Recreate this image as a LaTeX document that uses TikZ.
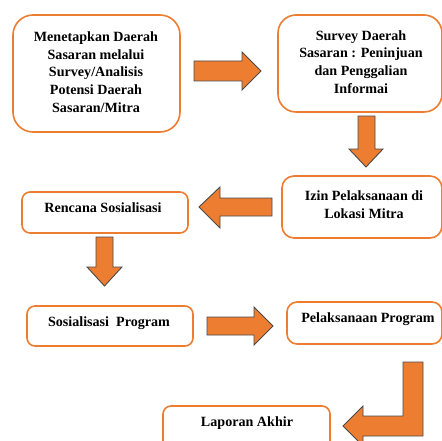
\documentclass[tikz,border=0pt]{standalone}
\usepackage{fontspec}
\setmainfont{Liberation Serif}
\definecolor{boxorange}{HTML}{ED7D31}
\definecolor{arrowfill}{HTML}{ED7D31}
\definecolor{arrowline}{HTML}{4A4A4A}
\begin{document}
\begin{tikzpicture}[x=1pt,y=-1pt,
  box/.style={draw=boxorange,line width=1.6pt,fill=white,inner sep=0pt,rectangle},
  txt/.style={align=center,inner sep=0pt,font=\fontsize{14.1}{17.8}\selectfont\bfseries},
  blockarrow/.style={fill=arrowfill,draw=arrowline,line width=0.9pt,line join=miter}]
\useasboundingbox (0,0) rectangle (441,441);
% boxes
\node[box,rounded corners=20pt,minimum width=167,minimum height=117] (b1) at (96.5,73.5) {};
\node[box,rounded corners=18pt,minimum width=164,minimum height=97] (b2) at (360,63.5) {};
\node[box,rounded corners=12pt,minimum width=160,minimum height=62] (b3) at (362,207) {};
\node[box,rounded corners=8pt,minimum width=166,minimum height=41] (b4) at (105,212.5) {};
\node[box,rounded corners=8pt,minimum width=166,minimum height=40] (b5) at (110,326) {};
\node[box,rounded corners=10pt,minimum width=155,minimum height=42] (b6) at (364.5,323) {};
\node[box,rounded corners=8pt,minimum width=167,minimum height=44] (b7) at (246.5,428) {};
% texts
\node[txt] (t1) at (96,72) {Menetapkan Daerah\\Sasaran melalui\\Survey/Analisis\\Potensi Daerah\\Sasaran/Mitra};
\node[txt] (t2) at (361,62) {Survey Daerah\\Sasaran : Peninjuan\\dan Penggalian\\Informai};
\node[txt] (t3) at (364,204.5) {Izin Pelaksanaan di\\Lokasi Mitra};
\node[txt] (t4) at (103,208) {Rencana Sosialisasi};
\node[txt] (t5) at (109,323) {Sosialisasi\ \ Program};
\node[txt] (t6) at (368,319) {Pelaksanaan Program};
\node[txt] (t7) at (247,423) {Laporan Akhir};
% block arrows
\draw[blockarrow] (194,61) -- (242,61) -- (242,52) -- (261,71) -- (242,90) -- (242,81) -- (194,81) -- cycle;
\draw[blockarrow] (358,116) -- (375,116) -- (375,149) -- (383,149) -- (366,167) -- (349,149) -- (358,149) -- cycle;
\draw[blockarrow] (272,198) -- (220,198) -- (220,187) -- (199,207) -- (220,228) -- (220,216) -- (272,216) -- cycle;
\draw[blockarrow] (96,237) -- (113,237) -- (113,267) -- (122,267) -- (104.5,286) -- (87,267) -- (96,267) -- cycle;
\draw[blockarrow] (207,317) -- (254,317) -- (254,307) -- (273,326) -- (254,345) -- (254,335) -- (207,335) -- cycle;
\draw[blockarrow] (403,362) -- (423,362) -- (423,436) -- (363,436) -- (363,446) -- (343,426) -- (363,406) -- (363,416) -- (403,416) -- cycle;
\end{tikzpicture}
\end{document}
